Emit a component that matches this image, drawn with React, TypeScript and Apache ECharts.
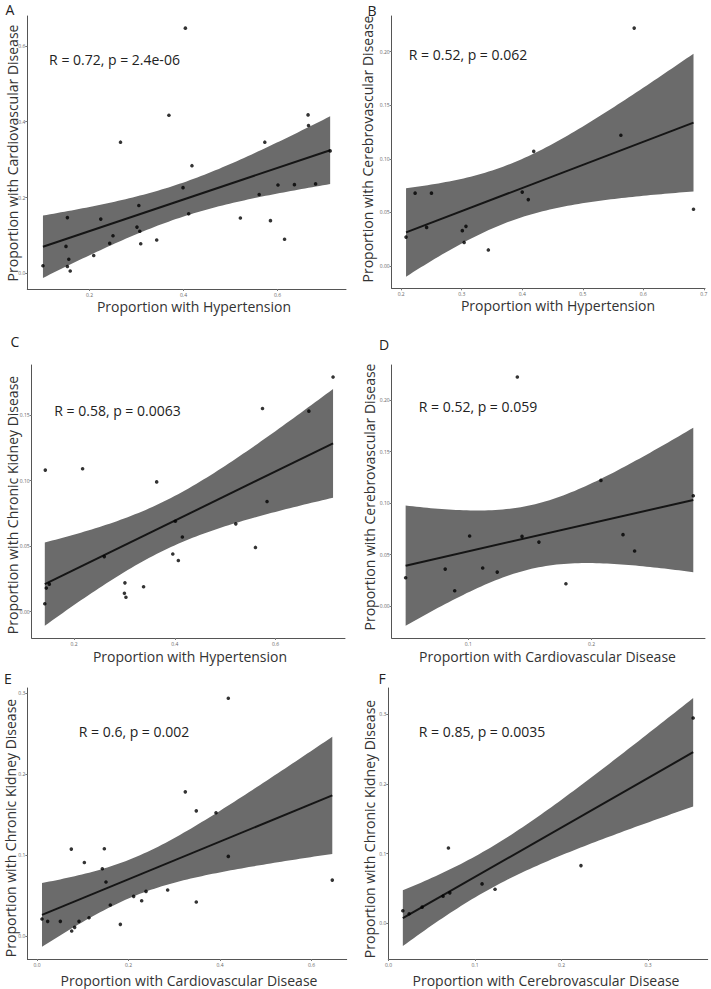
import React, { useEffect, useRef } from "react";
import * as echarts from "echarts";

// ---------- data ----------
// A: Hypertension vs Cardiovascular
const aX = [0.101, 0.153, 0.150, 0.153, 0.156, 0.159, 0.209, 0.224, 0.243, 0.250, 0.266, 0.301, 0.305, 0.307, 0.309, 0.343, 0.369, 0.399, 0.404, 0.411, 0.418, 0.521, 0.561, 0.573, 0.585, 0.601, 0.615, 0.636, 0.665, 0.666, 0.681, 0.712];
const aY = [0.020, 0.147, 0.071, 0.018, 0.037, 0.006, 0.047, 0.143, 0.079, 0.099, 0.346, 0.122, 0.179, 0.111, 0.078, 0.088, 0.417, 0.226, 0.647, 0.157, 0.284, 0.146, 0.208, 0.346, 0.139, 0.233, 0.090, 0.234, 0.418, 0.390, 0.236, 0.323];
// B: Hypertension vs Cerebrovascular
const bX = [0.208, 0.223, 0.242, 0.250, 0.301, 0.307, 0.304, 0.344, 0.400, 0.410, 0.419, 0.563, 0.585, 0.683];
const bY = [0.027, 0.068, 0.036, 0.068, 0.033, 0.037, 0.022, 0.015, 0.069, 0.062, 0.107, 0.122, 0.222, 0.053];
// C: Hypertension vs Chronic Kidney
const cX = [0.143, 0.142, 0.145, 0.151, 0.217, 0.260, 0.301, 0.300, 0.303, 0.338, 0.364, 0.396, 0.401, 0.407, 0.415, 0.521, 0.560, 0.574, 0.583, 0.666, 0.714];
const cY = [0.108, 0.006, 0.018, 0.021, 0.109, 0.042, 0.022, 0.014, 0.011, 0.019, 0.099, 0.044, 0.069, 0.039, 0.057, 0.067, 0.049, 0.155, 0.084, 0.153, 0.179];
// D: Cardiovascular vs Cerebrovascular
const dX = [0.0492, 0.0813, 0.0890, 0.1011, 0.1117, 0.1235, 0.1398, 0.1436, 0.1573, 0.1792, 0.2076, 0.2255, 0.2349, 0.2825];
const dY = [0.0275, 0.0359, 0.0149, 0.0680, 0.0369, 0.0330, 0.2223, 0.0676, 0.0621, 0.0217, 0.1220, 0.0693, 0.0534, 0.1071];
// E: Cardiovascular vs Chronic Kidney
const eX = [0.0109, 0.0233, 0.0510, 0.0750, 0.0758, 0.0823, 0.0918, 0.1035, 0.1137, 0.1428, 0.1472, 0.1508, 0.1603, 0.1822, 0.2113, 0.2288, 0.2383, 0.2856, 0.3242, 0.3482, 0.3482, 0.3913, 0.4182, 0.4182, 0.6455];
const eY = [0.0210, 0.0181, 0.0181, 0.1074, 0.0062, 0.0107, 0.0181, 0.0909, 0.0226, 0.0831, 0.1078, 0.0667, 0.0383, 0.0144, 0.0490, 0.0436, 0.0551, 0.0568, 0.1782, 0.1547, 0.0420, 0.1523, 0.2938, 0.0984, 0.0691];
// F: Cerebrovascular vs Chronic Kidney
const fX = [0.0166, 0.0239, 0.0389, 0.0631, 0.0693, 0.0709, 0.1082, 0.1232, 0.2225, 0.3522];
const fY = [0.0177, 0.0134, 0.0229, 0.0387, 0.1080, 0.0435, 0.0564, 0.0487, 0.0827, 0.2948];

// tick labels
const aXTicks = [0.2, 0.4, 0.6];
const aYTicks = [0.0, 0.2, 0.4, 0.6];
const bXTicks = [0.2, 0.3, 0.4, 0.5, 0.6, 0.7];
const bYTicks = [0.0, 0.05, 0.1, 0.15, 0.2];
const cXTicks = [0.2, 0.4, 0.6];
const cYTicks = [0.0, 0.05, 0.1, 0.15];
const dXTicks = [0.1, 0.2];
const dYTicks = [0.0, 0.05, 0.1, 0.15, 0.2];
const eXTicks = [0.0, 0.2, 0.4, 0.6];
const eYTicks = [0.0, 0.1, 0.2, 0.3];
const fXTicks = [0.0, 0.1, 0.2, 0.3];
const fYTicks = [0.0, 0.1, 0.2, 0.3];

const annotations = ["R = 0.72, p = 2.4e-06", "R = 0.52, p = 0.062", "R = 0.58, p = 0.0063", "R = 0.52, p = 0.059", "R = 0.6, p = 0.002", "R = 0.85, p = 0.0035"];
const letters = ["A", "B", "C", "D", "E", "F"];
const xTitles = ["Proportion with Hypertension", "Proportion with Hypertension", "Proportion with Hypertension", "Proportion with Cardiovascular Disease", "Proportion with Cardiovascular Disease", "Proportion with Cerebrovascular Disease"];
const yTitles = ["Proportion with Cardiovascular Disease", "Proportion with Cerebrovascular Disease", "Proportion with Chronic Kidney Disease", "Proportion with Cerebrovascular Disease", "Proportion with Chronic Kidney Disease", "Proportion with Chronic Kidney Disease"];

// ---------- layout ----------
type Panel = {
  x: number[]; y: number[]; xt: number[]; yt: number[]; xd: number; yd: number;
  L: number; T: number; R: number; B: number;
  xr: [number, number]; yr: [number, number];
  letter: [number, number]; ytitle: [number, number]; xtitle: [number, number]; annot: [number, number];
};

const panels: Panel[] = [
  { x: aX, y: aY, xt: aXTicks, yt: aYTicks, xd: 1, yd: 1, L: 27.3, T: 16, R: 346, B: 289, xr: [0.0677, 0.7457], yr: [-0.0414, 0.679], letter: [10, 9], ytitle: [12, 153], xtitle: [194, 306], annot: [114.5, 59] },
  { x: bX, y: bY, xt: bXTicks, yt: bYTicks, xd: 1, yd: 2, L: 391.7, T: 16, R: 705, B: 288.3, xr: [0.1843, 0.702], yr: [-0.0208, 0.2333], letter: [372, 10], ytitle: [367.5, 149], xtitle: [558, 305], annot: [468, 54] },
  { x: cX, y: cY, xt: cXTicks, yt: cYTicks, xd: 1, yd: 2, L: 31.7, T: 365, R: 345, B: 638, xr: [0.116, 0.7377], yr: [-0.0201, 0.1882], letter: [15, 341], ytitle: [12, 505], xtitle: [190, 656], annot: [117.5, 410.7] },
  { x: dX, y: dY, xt: dXTicks, yt: dYTicks, xd: 1, yd: 2, L: 391.7, T: 365, R: 705, B: 638, xr: [0.0379, 0.292], yr: [-0.031, 0.234], letter: [384, 344], ytitle: [369, 497], xtitle: [547.5, 656], annot: [478, 406.7] },
  { x: eX, y: eY, xt: eXTicks, yt: eYTicks, xd: 1, yd: 1, L: 27.4, T: 688, R: 346.7, B: 959, xr: [-0.021, 0.677], yr: [-0.0284, 0.3065], letter: [8, 678], ytitle: [10, 828], xtitle: [189, 980], annot: [134, 731.7] },
  { x: fX, y: fY, xt: fXTicks, yt: fYTicks, xd: 1, yd: 1, L: 388.3, T: 688, R: 707.7, B: 959, xr: [-0.0002, 0.369], yr: [-0.0516, 0.338], letter: [382, 678], ytitle: [369, 829], xtitle: [546, 980], annot: [482, 731.7] },
];

// ---------- linear model + 95% confidence band (as geom_smooth(method = "lm")) ----------
function tQuantile975(df: number) {
  const z = 1.959964;
  const g1 = (z ** 3 + z) / 4;
  const g2 = (5 * z ** 5 + 16 * z ** 3 + 3 * z) / 96;
  const g3 = (3 * z ** 7 + 19 * z ** 5 + 17 * z ** 3 - 15 * z) / 384;
  return z + g1 / df + g2 / df ** 2 + g3 / df ** 3;
}

function fit(xs: number[], ys: number[]) {
  const n = xs.length;
  const mx = xs.reduce((s, v) => s + v, 0) / n;
  const my = ys.reduce((s, v) => s + v, 0) / n;
  let sxx = 0, sxy = 0;
  for (let i = 0; i < n; i++) { sxx += (xs[i] - mx) ** 2; sxy += (xs[i] - mx) * (ys[i] - my); }
  const b = sxy / sxx;
  const a = my - b * mx;
  let sse = 0;
  for (let i = 0; i < n; i++) sse += (ys[i] - a - b * xs[i]) ** 2;
  const s = Math.sqrt(sse / (n - 2));
  const t = tQuantile975(n - 2);
  const x0 = Math.min(...xs), x1 = Math.max(...xs);
  const steps = 80;
  const upper: number[][] = [], lower: number[][] = [];
  for (let k = 0; k <= steps; k++) {
    const xv = x0 + ((x1 - x0) * k) / steps;
    const yh = a + b * xv;
    const se = s * Math.sqrt(1 / n + (xv - mx) ** 2 / sxx);
    upper.push([xv, yh + t * se]);
    lower.push([xv, yh - t * se]);
  }
  return { line: [[x0, a + b * x0], [x1, a + b * x1]], upper, lower };
}

const FONT = "'Open Sans', 'Noto Sans', sans-serif";

export default function App() {
  const ref = useRef<HTMLDivElement>(null);
  useEffect(() => {
    document.body.style.margin = "0";
    const chart = echarts.init(ref.current!, undefined, { renderer: "svg" });
    const grid: any[] = [], xAxis: any[] = [], yAxis: any[] = [], series: any[] = [], graphic: any[] = [];
    panels.forEach((p, i) => {
      grid.push({ left: p.L, top: p.T, width: p.R - p.L, height: p.B - p.T, containLabel: false });
      const axisCommon = {
        axisLine: { show: true, onZero: false, lineStyle: { color: "#555", width: 1 } },
        splitLine: { show: false },
      };
      xAxis.push({
        type: "value", gridIndex: i, min: p.xr[0], max: p.xr[1], ...axisCommon,
        axisTick: { show: true, length: 2, lineStyle: { color: "#777" }, customValues: p.xt },
        axisLabel: { customValues: p.xt, fontSize: 5, color: "#666", margin: 3, fontFamily: FONT, formatter: (v: number) => v.toFixed(p.xd) },
      });
      yAxis.push({
        type: "value", gridIndex: i, min: p.yr[0], max: p.yr[1], ...axisCommon,
        axisTick: { show: true, length: 2, lineStyle: { color: "#777" }, customValues: p.yt },
        axisLabel: { customValues: p.yt, fontSize: 5, color: "#666", margin: 2, fontFamily: FONT, formatter: (v: number) => v.toFixed(p.yd) },
      });
      const f = fit(p.x, p.y);
      const upper = f.upper, lower = f.lower;
      series.push({
        type: "custom", xAxisIndex: i, yAxisIndex: i, z: 1, silent: true,
        data: [upper[0]],
        renderItem: (params: any, api: any) => {
          if (params.dataIndex !== 0) return null;
          const pts = upper.map((q) => api.coord(q)).concat(lower.slice().reverse().map((q) => api.coord(q)));
          return { type: "polygon", shape: { points: pts }, style: { fill: "#6b6b6b", stroke: "none" } };
        },
      });
      series.push({
        type: "line", xAxisIndex: i, yAxisIndex: i, z: 2, data: f.line, showSymbol: false, symbol: "none",
        lineStyle: { color: "#151515", width: 2 },
      });
      series.push({
        type: "scatter", xAxisIndex: i, yAxisIndex: i, z: 3, symbolSize: 3.6,
        itemStyle: { color: "#000" },
        data: p.x.map((xv, k) => [xv, p.y[k]]),
      });
      graphic.push({ type: "text", x: p.letter[0], y: p.letter[1], style: { text: letters[i], font: `14px ${FONT}`, fill: "#222", align: "center", verticalAlign: "middle" } });
      graphic.push({ type: "text", x: p.xtitle[0], y: p.xtitle[1], style: { text: xTitles[i], font: `14px ${FONT}`, fill: "#333", align: "center", verticalAlign: "middle" } });
      graphic.push({ type: "text", x: p.ytitle[0], y: p.ytitle[1], rotation: Math.PI / 2, style: { text: yTitles[i], font: `14px ${FONT}`, fill: "#333", align: "center", verticalAlign: "middle" } });
      graphic.push({ type: "text", x: p.annot[0], y: p.annot[1], style: { text: annotations[i], font: `14px ${FONT}`, fill: "#222", align: "center", verticalAlign: "middle" } });
    });
    chart.setOption({ animation: false, backgroundColor: "#fff", grid, xAxis, yAxis, series, graphic });
    return () => chart.dispose();
  }, []);
  return <div ref={ref} style={{ position: "absolute", left: 0, top: 0, width: 711, height: 989 }} />;
}
